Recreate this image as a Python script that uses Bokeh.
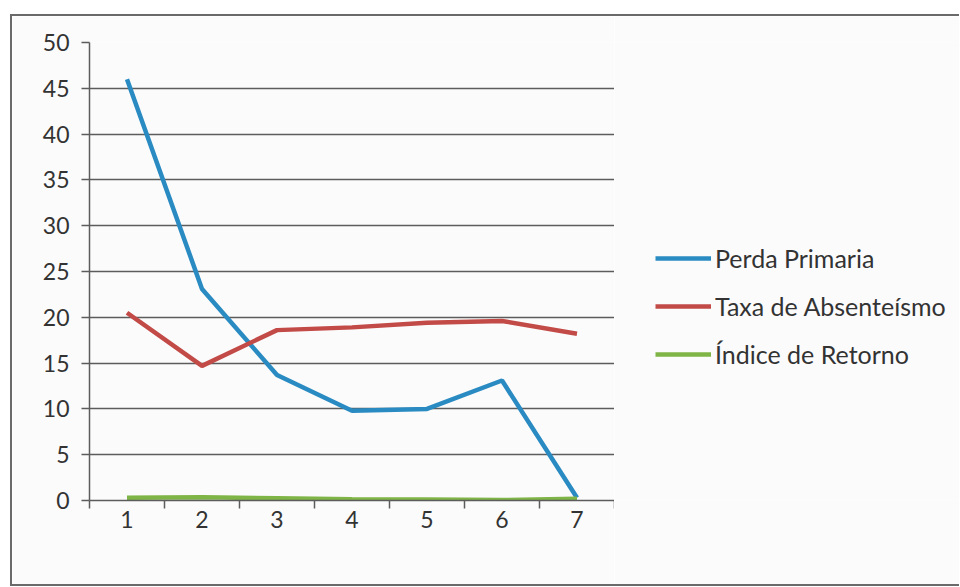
from bokeh.plotting import figure
from bokeh.layouts import row
from bokeh.models import FixedTicker, Legend, LegendItem, Range1d
from bokeh.embed import file_html
from bokeh.resources import INLINE

categories = [1, 2, 3, 4, 5, 6, 7]
perda_primaria = [46.0, 23.1, 13.7, 9.8, 10.0, 13.1, 0.3]
taxa_absenteismo = [20.5, 14.7, 18.6, 18.9, 19.4, 19.6, 18.2]
indice_retorno = [0.3, 0.35, 0.25, 0.15, 0.1, 0.05, 0.2]
y_ticks = [0, 5, 10, 15, 20, 25, 30, 35, 40, 45, 50]
series_names = ["Perda Primaria", "Taxa de Absenteísmo", "Índice de Retorno"]
series_colors = ["#2a8bc3", "#c24a47", "#7fb446"]

FONT = "Lato"
GRID = "#5c5c5c"
TEXT = "#333333"
BG = "#fbfbfb"
BORDER = "2px solid #6a6a6a"

p = figure(width=604, height=572, output_backend="svg", toolbar_location=None,
           x_range=Range1d(0.5, 7.5), y_range=Range1d(0, 50),
           min_border_left=77, min_border_top=26, min_border_bottom=88,
           min_border_right=2,
           background_fill_color=BG, border_fill_color=BG,
           outline_line_color=None,
           styles={"border-left": BORDER, "border-top": BORDER,
                   "border-bottom": BORDER})

# y axis
p.yaxis.ticker = FixedTicker(ticks=y_ticks)
p.yaxis.major_tick_out = 8
p.yaxis.major_tick_in = 0
p.yaxis.minor_tick_out = 0
p.yaxis.major_label_standoff = 12
p.yaxis.axis_line_color = GRID
p.yaxis.axis_line_width = 1.5
p.yaxis.major_tick_line_color = GRID
p.yaxis.major_tick_line_width = 1.5
p.yaxis.major_label_text_font = FONT
p.yaxis.major_label_text_font_size = "23px"
p.yaxis.major_label_text_color = TEXT

# x axis
p.xaxis.ticker = FixedTicker(ticks=categories,
                             minor_ticks=[c - 0.5 for c in categories] + [categories[-1] + 0.5])
p.xaxis.major_tick_out = 0
p.xaxis.major_tick_in = 0
p.xaxis.minor_tick_out = 8
p.xaxis.minor_tick_in = 0
p.xaxis.minor_tick_line_color = GRID
p.xaxis.minor_tick_line_width = 1.5
p.xaxis.major_label_standoff = 2
p.xaxis.axis_line_color = GRID
p.xaxis.axis_line_width = 1.5
p.xaxis.major_label_text_font = FONT
p.xaxis.major_label_text_font_size = "23px"
p.xaxis.major_label_text_color = TEXT

p.xgrid.grid_line_color = None
p.ygrid.grid_line_color = GRID
p.ygrid.grid_line_width = 1.5
p.ygrid.ticker = FixedTicker(ticks=y_ticks)

all_series = [perda_primaria, taxa_absenteismo, indice_retorno]
for vals, col in zip(all_series, series_colors):
    p.line(categories, vals, line_color=col, line_width=4.5)

# legend panel (separate figure so it is not clipped by the plot frame)
q = figure(width=345, height=572, output_backend="svg", toolbar_location=None,
           x_range=Range1d(0.5, 7.5), y_range=Range1d(0, 50),
           x_axis_type=None, y_axis_type=None,
           min_border=0, outline_line_color=None,
           background_fill_color=BG, border_fill_color=BG,
           styles={"border-top": BORDER, "border-bottom": BORDER})
q.xgrid.grid_line_color = None
q.ygrid.grid_line_color = None

items = []
for name, vals, col in zip(series_names, all_series, series_colors):
    r = q.line(categories, vals, line_color=col, line_width=4.5, visible=False)
    items.append(LegendItem(label=name, renderers=[r]))

legend = Legend(items=items, location=(41, 131), orientation="vertical",
                glyph_width=56, glyph_height=20, label_height=20,
                label_standoff=4, spacing=18, padding=0, margin=0,
                border_line_color=None, background_fill_alpha=0,
                inactive_fill_alpha=0,
                label_text_font=FONT, label_text_font_size="25px",
                label_text_color=TEXT)
q.add_layout(legend, "center")

layout = row(p, q, spacing=0, styles={"margin-left": "10px", "margin-top": "14px"})
open("out.html", "w").write(file_html(layout, INLINE))
